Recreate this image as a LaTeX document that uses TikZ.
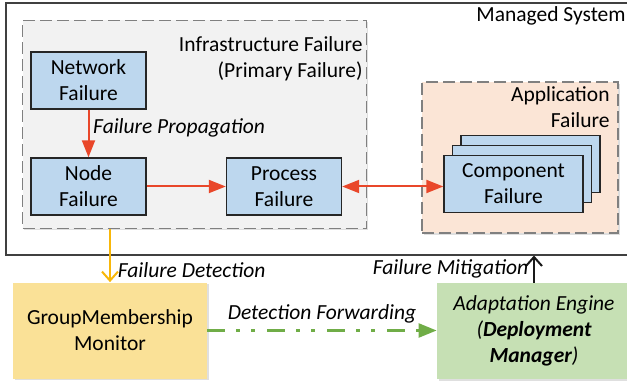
\documentclass[tikz,border=0pt]{standalone}
\usepackage{fontspec}
\setmainfont{Carlito}
\usepackage{tikz}
\usetikzlibrary{positioning,arrows.meta,shadows}
\definecolor{failblue}{HTML}{BDD7EE}
\definecolor{infragray}{HTML}{F2F2F2}
\definecolor{apppeach}{HTML}{FBE5D6}
\definecolor{monyellow}{HTML}{FAE197}
\definecolor{enggreen}{HTML}{C6E0B4}
\definecolor{arrowred}{HTML}{E9472A}
\definecolor{detorange}{HTML}{F8B70A}
\definecolor{fwdgreen}{HTML}{70AD47}
\tikzset{
  line/.style={-{Triangle[length=8.5pt,width=6.5pt]}, line width=1pt, draw=arrowred},
  dline/.style={{Triangle[length=8.5pt,width=6.5pt]}-{Triangle[length=8.5pt,width=6.5pt]}, line width=1pt, draw=arrowred},
  detect/.style={-{Straight Barb[length=4.5pt,width=8pt,line width=1pt]}, line width=1.1pt, draw=detorange},
  mitigate/.style={-{Straight Barb[length=4.5pt,width=8pt,line width=1pt]}, line width=1pt, draw=black!90},
  forward/.style={-{Triangle[length=9pt,width=7pt]}, line width=1.2pt, draw=fwdgreen,
    dash pattern=on 9pt off 5.5pt on 2pt off 5.5pt on 2pt off 6pt},
  box/.style={draw=black!85, line width=0.7pt, align=center, inner sep=2pt},
  failbox/.style={box, fill=failblue, minimum width=57.5pt, minimum height=28.5pt},
  region/.style={draw=black!50, line width=0.6pt, dash pattern=on 6pt off 2.5pt,
    drop shadow={shadow xshift=0.8pt, shadow yshift=-0.8pt, opacity=0.25}},
  bigbox/.style={align=center, inner sep=2pt, minimum width=97pt, minimum height=48pt,
    drop shadow={shadow xshift=0.8pt, shadow yshift=-0.8pt, opacity=0.25}},
  caption/.style={inner sep=0pt, align=right},
  flowlabel/.style={font=\fontsize{10.75}{13}\selectfont\itshape}
}

\begin{document}
\begin{tikzpicture}[x=0.5pt, y=-0.5pt, font=\fontsize{10.75}{13}\selectfont]
  \path[clip, use as bounding box] (0,0) rectangle (627,385);

  % managed system
  \node[draw=black!75, line width=1pt, minimum width=320pt, minimum height=125.5pt, inner sep=0pt] (managed) at (326,129) {};
  \node[caption, anchor=east] at (626,16) {Managed System};

  % infrastructure failures
  \node[region, fill=infragray, minimum width=172pt, minimum height=104pt, inner sep=0pt] (infra) at (194.5,124.5) {};
  \node[caption, anchor=east] at (363,58.5) {Infrastructure Failure\\(Primary Failure)};
  \node[failbox] (network) at (88.5,80.5) {Network\\Failure};
  \node[failbox] (node) at (88.5,186.5) {Node\\Failure};
  \node[failbox] (process) at (284,186.5) {Process\\Failure};

  % application failures
  \node[region, fill=apppeach, minimum width=98pt, minimum height=75.5pt, inner sep=0pt] (app) at (520,157.5) {};
  \node[caption, anchor=east] at (610,107.5) {Application\\Failure};
  \node[failbox, minimum width=69.5pt] (comp3) at (530.5,164) {};
  \node[failbox, minimum width=69.5pt] (comp2) at (522,174) {};
  \node[failbox, minimum width=69.5pt] (comp) at (513.5,184) {Component\\Failure};

  % monitor and engine
  \node[bigbox, fill=monyellow] (gm) at (110,330.5) {GroupMembership\\Monitor};
  \node[bigbox, fill=enggreen] (ae) at (534,331) {\itshape Adaptation Engine\\\itshape(\textbf{Deployment}\\\itshape\textbf{Manager})};

  \draw[line] (network) -- node[flowlabel, pos=0.39, anchor=west, xshift=-1.5pt] {Failure Propagation} (node);
  \draw[line] (node) -- (process);
  \draw[dline] (process.east) -- (process.east -| comp.west);
  \draw[detect] (infra.south -| gm.north) -- node[flowlabel, pos=0.78, anchor=west, xshift=0pt] {Failure Detection} (gm.north);
  \draw[forward] (gm.east) -- node[flowlabel, above, yshift=-0.5pt] {Detection Forwarding} (gm.east -| ae.west);
  \draw[mitigate] (ae.north) -- node[flowlabel, pos=0.5, anchor=east, xshift=1pt] {Failure Mitigation} (ae.north |- managed.south);
\end{tikzpicture}
\end{document}
